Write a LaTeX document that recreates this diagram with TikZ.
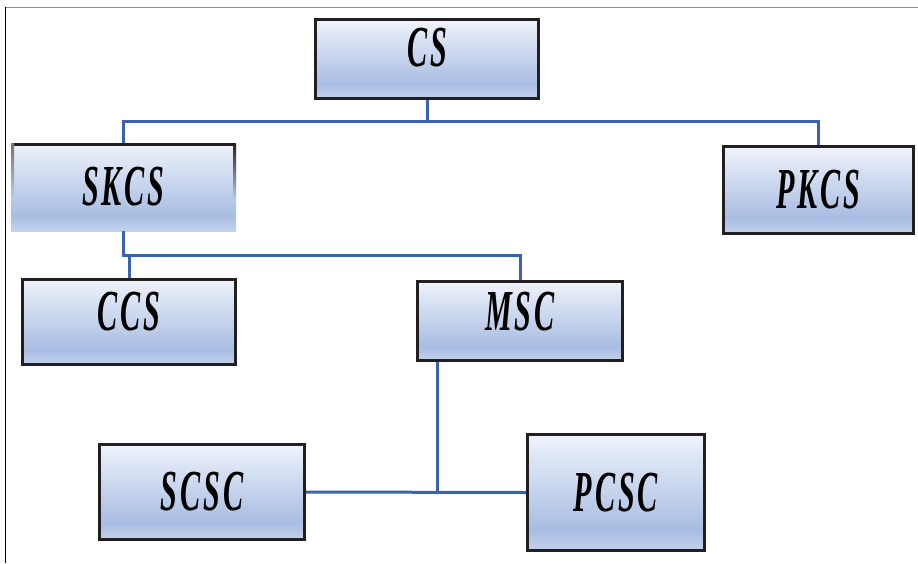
\documentclass[tikz,border=0pt]{standalone}
\usepackage{fontspec}
\usepackage{xcolor}
\usetikzlibrary{positioning}
\newfontfamily\boxfont[FakeStretch=0.52,LetterSpace=5]{Liberation Serif}
\definecolor{boxtop}{HTML}{EFF3FB}
\definecolor{boxmid}{HTML}{A8BDE2}
\definecolor{boxlow}{HTML}{C3D2EC}
\definecolor{boxline}{HTML}{231F20}
\definecolor{linkblue}{HTML}{3A62AE}
\pgfdeclareverticalshading{boxgrad}{100bp}{color(0bp)=(boxlow); color(25bp)=(boxlow); color(34bp)=(boxmid); color(75bp)=(boxtop); color(100bp)=(boxtop)}

\begin{document}
\begin{tikzpicture}[x=1pt,y=-1pt]
    \tikzstyle{box}=[rectangle, shade, shading=boxgrad, draw=boxline, line width=3pt, inner sep=0pt, font=\boxfont\bfseries\itshape\fontsize{58}{58}\selectfont]
    \tikzstyle{link}=[draw=linkblue, line width=3pt]

    \useasboundingbox (0,0) rectangle (918,563);
    \draw[black!45, line width=1pt] (5,7) -- (918,7);
    \draw[black, line width=1pt] (5,7) -- (5,563);

    \node[box, minimum width=223pt, minimum height=79pt, text depth=23pt] (CS) at (427,59) {CS};
    \node[box, draw=none, outer sep=0pt, minimum width=225pt, minimum height=88pt] (SKCS) at (123.5,187) {SKCS};
    \node[box, minimum width=190pt, minimum height=87pt] (PKCS) at (818.5,190) {PKCS};
    \node[box, minimum width=213pt, minimum height=85pt, text depth=21pt] (CCS) at (129,322) {CCS};
    \node[box, minimum width=205pt, minimum height=79pt, text depth=20pt] (MSC) at (520,321) {MSC};
    \node[box, minimum width=205pt, minimum height=95pt] (SCSC) at (202,492) {SCSC};
    \node[box, minimum width=177pt, minimum height=116pt] (PCSC) at (616,492.5) {PCSC};

    % open frame of SKCS
    \draw[boxline, line width=3pt] ([yshift=-1.5pt]SKCS.north west) -- ([yshift=-1.5pt]SKCS.north east);
    \shade[top color=boxline, bottom color=boxmid!70!boxtop] (SKCS.north east) rectangle ++(-3,57);
    \shade[top color=black!55, bottom color=boxmid!70!boxtop] (SKCS.north west) rectangle ++(3,57);

    \coordinate (CSjoin) at ([yshift=-21pt]CS.south);
    \coordinate (SKjoin) at ([yshift=-24pt]SKCS.south);
    \coordinate (MSCdrop) at ([xshift=-83pt]MSC.south);

    \draw[link] (CS.south) -- (CSjoin);
    \draw[link] (SKCS.north) |- (CSjoin) -| (PKCS.north);
    \draw[link] (SKCS.south) -- (SKjoin) -| (MSC.north);
    \draw[link] (CCS.north) -- (CCS.north |- SKjoin);
    \draw[link] (MSCdrop) -- (MSCdrop |- SCSC.east);
    \draw[link] (SCSC.east) -- (PCSC.west);
\end{tikzpicture}
\end{document}
